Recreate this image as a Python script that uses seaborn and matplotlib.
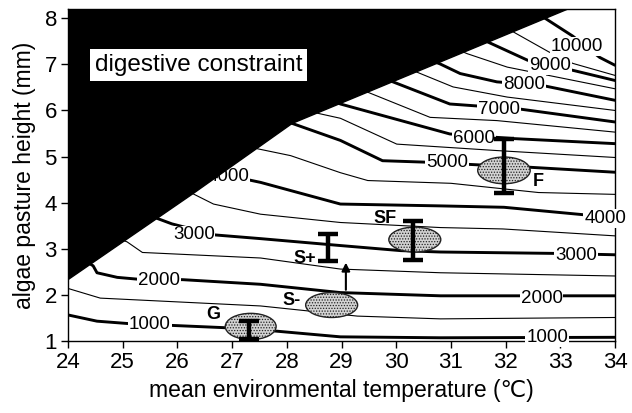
import matplotlib
matplotlib.use("Agg")
import matplotlib.pyplot as plt
import seaborn as sns
import pandas as pd
from matplotlib.patches import Ellipse, Polygon

# ---------------- data ----------------
# contour lines: level -> list of (temperature, height) points
line_1000 = [(24.0, 1.565), (24.53, 1.43), (25.08, 1.38), (26.84, 1.29), (27.75, 1.22),
             (28.98, 1.09), (30.81, 1.07), (34.0, 1.08)]
line_1500 = [(24.0, 2.14), (24.59, 1.93), (27.52, 1.76), (29.29, 1.54), (30.81, 1.48), (34.0, 1.51)]
line_2000 = [(24.3, 2.75), (24.46, 2.63), (24.53, 2.48), (24.9, 2.38), (25.28, 2.34), (26.1, 2.33),
             (27.52, 2.23), (28.98, 2.05), (30.81, 1.98), (34.0, 1.98)]
line_2500 = [(24.85, 3.25), (25.08, 3.15), (25.36, 2.92), (27.52, 2.8), (28.98, 2.56),
             (30.81, 2.48), (34.0, 2.41)]
line_3000 = [(25.45, 3.75), (25.65, 3.65), (25.9, 3.54), (26.69, 3.30), (27.52, 3.22), (28.98, 3.07),
             (30.08, 2.96), (30.81, 2.93), (32.88, 2.90), (34.0, 2.87)]
line_3500 = [(26.1, 4.3), (26.29, 4.19), (26.66, 3.97), (27.52, 3.75), (28.98, 3.57), (30.81, 3.46),
             (31.95, 3.43), (34.0, 3.28)]
line_4000 = [(26.4, 4.7), (27.0, 4.57), (27.52, 4.44), (28.98, 3.97), (30.81, 3.93), (31.97, 3.9),
             (33.5, 3.73), (34.0, 3.7)]
line_4500 = [(27.2, 5.35), (27.46, 5.17), (28.07, 5.02), (28.98, 4.65), (29.48, 4.48), (31.0, 4.42),
             (32.6, 4.22), (34.0, 4.18)]
line_5000 = [(27.9, 5.8), (28.12, 5.71), (28.98, 5.35), (29.75, 4.91), (30.5, 4.88), (31.5, 4.82),
             (32.41, 4.77), (34.0, 4.66)]
line_5500 = [(28.4, 6.05), (28.56, 5.94), (28.98, 5.83), (30.01, 5.27), (31.84, 5.13), (34.0, 4.98)]
line_6000 = [(28.75, 6.25), (28.98, 6.14), (30.98, 5.49), (32.14, 5.39), (34.0, 5.28)]
line_6500 = [(29.3, 6.48), (29.47, 6.4), (30.62, 5.85), (31.84, 5.78), (34.0, 5.53)]
line_7000 = [(29.75, 6.72), (29.94, 6.62), (30.98, 6.14), (32.26, 6.03), (34.0, 5.75)]
line_7500 = [(30.2, 6.92), (30.38, 6.83), (31.04, 6.51), (32.03, 6.29), (34.0, 6.0)]
line_8000 = [(30.6, 7.1), (30.8, 7.01), (31.17, 6.8), (31.84, 6.62), (32.68, 6.54), (34.0, 6.22)]
line_8500 = [(31.1, 7.33), (31.3, 7.23), (32.03, 6.94), (34.0, 6.47)]
line_9000 = [(31.5, 7.58), (31.72, 7.46), (32.4, 7.09), (33.23, 6.87), (34.0, 6.65)]
line_9500 = [(32.0, 7.8), (32.19, 7.67), (32.79, 7.27), (33.23, 7.02), (34.0, 6.76)]
line_10000 = [(32.5, 8.15), (32.72, 8.0), (33.23, 7.61), (33.72, 7.15), (34.0, 6.98)]

contour_levels = [1000, 1500, 2000, 2500, 3000, 3500, 4000, 4500, 5000, 5500,
                  6000, 6500, 7000, 7500, 8000, 8500, 9000, 9500, 10000]
contour_lines = [line_1000, line_1500, line_2000, line_2500, line_3000, line_3500, line_4000,
                 line_4500, line_5000, line_5500, line_6000, line_6500, line_7000, line_7500,
                 line_8000, line_8500, line_9000, line_9500, line_10000]

# contour label texts and positions
label_texts = ["1000", "1000", "2000", "2000", "3000", "3000", "4000", "4000",
               "5000", "6000", "7000", "8000", "9000", "10000"]
label_T = [25.5, 32.76, 25.66, 32.66, 26.3, 33.29, 26.93, 33.82, 30.93, 31.42, 31.88, 32.34, 32.81, 33.3]
label_h = [1.35, 1.07, 2.31, 1.93, 3.3, 2.86, 4.56, 3.66, 4.87, 5.4, 6.03, 6.57, 6.97, 7.39]

# digestive constraint boundary (upper-left region is infeasible)
boundary_T = [24.0, 26.29, 28.1, 33.14]
boundary_h = [2.33, 4.2, 5.72, 8.2]

# observed groups: ellipses
ell_names = ["G", "S-", "SF", "F"]
ell_T = [27.34, 28.82, 30.34, 31.97]
ell_h = [1.315, 1.78, 3.2, 4.70]
ell_w = [0.93, 0.95, 0.95, 0.96]
ell_hh = [0.57, 0.54, 0.54, 0.58]

# observed groups: range bars
bar_T = [27.3, 28.76, 30.31, 31.97]
bar_lo = [1.04, 2.74, 2.75, 4.21]
bar_hi = [1.43, 3.33, 3.61, 5.38]

# group labels
grp_texts = ["G", "S-", "S+", "SF", "F"]
grp_T = [26.66, 28.08, 28.32, 29.8, 32.59]
grp_h = [1.565, 1.87, 2.79, 3.66, 4.46]

# arrow S- -> S+
arrow_T = 29.08
arrow_from = 2.05
arrow_to = 2.76

x_ticks = list(range(24, 35))
y_ticks = list(range(1, 9))

# ---------------- plot ----------------
sns.set_theme(style="ticks")
plt.rcParams["font.family"] = ["Liberation Sans", "DejaVu Sans"]
plt.rcParams["text.color"] = "black"
plt.rcParams["axes.labelcolor"] = "black"
plt.rcParams["xtick.color"] = "black"
plt.rcParams["ytick.color"] = "black"
plt.rcParams["hatch.color"] = "#8c8c8c"
plt.rcParams["hatch.linewidth"] = 0.6

fig = plt.figure(figsize=(6.32, 4.13), dpi=100)
ax = fig.add_axes([68 / 632, 72 / 413, 547 / 632, 332 / 413])

for lev, pts in zip(contour_levels, contour_lines):
    df = pd.DataFrame(pts, columns=["T", "h"])
    thick = (lev % 1000 == 0)
    sns.lineplot(data=df, x="T", y="h", sort=False, estimator=None, color="black",
                 linewidth=2.1 if thick else 0.8, ax=ax, zorder=2)

for txt, t, h in zip(label_texts, label_T, label_h):
    ax.text(t, h, txt, ha="center", va="center", fontsize=13.5, color="black", zorder=3,
            bbox=dict(boxstyle="square,pad=0.04", fc="white", ec="none"))

for t, h, w, hh in zip(ell_T, ell_h, ell_w, ell_hh):
    ax.add_patch(Ellipse((t, h), w, hh, facecolor="#d2d2d2", edgecolor="#222222",
                         linewidth=1.0, hatch="......", zorder=4))

for t, lo, hi in zip(bar_T, bar_lo, bar_hi):
    ax.errorbar([t], [(lo + hi) / 2], yerr=[[(hi - lo) / 2], [(hi - lo) / 2]], fmt="none",
                ecolor="black", elinewidth=3.2, capsize=7.5, capthick=3.2, zorder=5)

for txt, t, h in zip(grp_texts, grp_T, grp_h):
    ax.text(t, h, txt, ha="center", va="center", fontsize=13, fontweight="bold",
            color="black", zorder=5)

ax.annotate("", xy=(arrow_T, arrow_to), xytext=(arrow_T, arrow_from),
            arrowprops=dict(arrowstyle="-|>", color="black", lw=1.5, mutation_scale=12),
            zorder=5)

poly = [(23.0, boundary_h[0] - 0.82)] + list(zip(boundary_T, boundary_h)) + [(33.6, 8.5), (23.0, 8.5)]
ax.add_patch(Polygon(poly, closed=True, facecolor="black", edgecolor="black", zorder=6))

ax.text(24.49, 6.98, "digestive constraint", ha="left", va="center", fontsize=17.5,
        color="black", zorder=7,
        bbox=dict(boxstyle="square,pad=0.2", fc="white", ec="none"))

ax.set_xlim(24, 34)
ax.set_ylim(1, 8.2)
ax.set_xticks(x_ticks)
ax.set_yticks(y_ticks)
ax.tick_params(axis="both", direction="out", length=5, width=1, labelsize=16, pad=3,
               colors="black")
ax.set_xlabel("mean environmental temperature (\u2103)", fontsize=16.5, labelpad=4, color="black")
ax.set_ylabel("algae pasture height (mm)", fontsize=16.5, labelpad=6, color="black")
for s in ax.spines.values():
    s.set_color("black")
    s.set_linewidth(1.0)

fig.savefig("out.png", dpi=100)
